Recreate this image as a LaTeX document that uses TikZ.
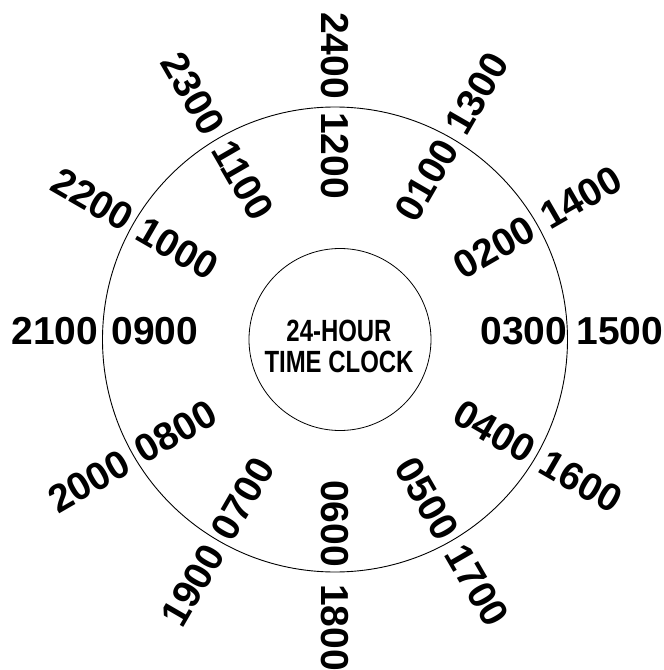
\documentclass[tikz,border=0pt]{standalone}
\usepackage{fontspec}
\setmainfont{Liberation Sans}
\newfontfamily\condfont[FakeStretch=0.78]{Liberation Sans}
\usetikzlibrary{positioning}
\tikzset{
  dialRing/.style={
    circle,
    draw=black,
    line width=0.9pt,
    inner sep=0pt,
    minimum size=465pt
  },
  hubRing/.style={
    circle,
    draw=black,
    line width=0.8pt,
    inner sep=0pt,
    minimum size=182pt
  },
  hourLabel/.style={
    inner sep=0pt,
    font=\bfseries\fontsize{39}{39}\selectfont
  },
  titleText/.style={
    align=center,
    inner sep=0pt,
    font=\condfont\bfseries\fontsize{30.7}{31}\selectfont
  }
}

\begin{document}
\begin{tikzpicture}[x=1pt, y=1pt]
  \useasboundingbox (-335,-330.5) rectangle (329,339.5);
  \node[dialRing] (dial) at (0,0) {};
  \node[hubRing] (hub) at (5,0) {};
  \node[titleText] (title) at (4,-7) {24-HOUR\\TIME CLOCK};

  % morning hours, inside the dial
  \node[hourLabel, rotate=60] (h01) at (60:184) {0100};
  \node[hourLabel, rotate=30] (h02) at (30:184) {0200};
  \node[hourLabel] (h03) at (189,8) {0300};
  \node[hourLabel, rotate=-30] (h04) at (-30:184) {0400};
  \node[hourLabel, rotate=-60] (h05) at (-60:184) {0500};
  \node[hourLabel, rotate=-90] (h06) at (-90:184) {0600};
  \node[hourLabel, rotate=60] (h07) at (-120:184) {0700};
  \node[hourLabel, rotate=30] (h08) at (-150:184) {0800};
  \node[hourLabel] (h09) at (-180,8) {0900};
  \node[hourLabel, rotate=-30] (h10) at (150:182) {1000};
  \node[hourLabel, rotate=-60] (h11) at (120:184) {1100};
  \node[hourLabel, rotate=-90] (h12) at (90:184) {1200};

  % afternoon hours, outside the dial
  \node[hourLabel, rotate=60] (h13) at (60:284) {1300};
  \node[hourLabel, rotate=30] (h14) at (30:284) {1400};
  \node[hourLabel] (h15) at (285,8) {1500};
  \node[hourLabel, rotate=-30] (h16) at (-30:284) {1600};
  \node[hourLabel, rotate=-60] (h17) at (-60:284) {1700};
  \node[hourLabel, rotate=-90] (h18) at (-90:288) {1800};
  \node[hourLabel, rotate=60] (h19) at (-120:284) {1900};
  \node[hourLabel, rotate=30] (h20) at (-150:284) {2000};
  \node[hourLabel] (h21) at (-280,8) {2100};
  \node[hourLabel, rotate=-30] (h22) at (150:280) {2200};
  \node[hourLabel, rotate=-60] (h23) at (120:284) {2300};
  \node[hourLabel, rotate=-90] (h24) at (90:284) {2400};
\end{tikzpicture}
\end{document}
